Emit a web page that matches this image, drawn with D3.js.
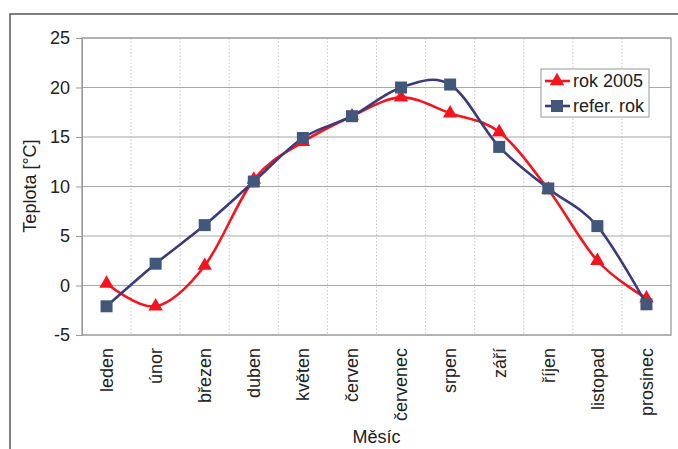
<!DOCTYPE html>
<html><head><meta charset="utf-8">
<script src="https://cdn.jsdelivr.net/npm/d3@7"></script>
<style>body{margin:0;background:#fff}text{font-family:"Liberation Sans",Arial,sans-serif;fill:#222}</style>
</head><body><svg id="c" width="678" height="449"></svg>
<script>
const months = ["leden","únor","březen","duben","květen","červen","červenec","srpen","září","říjen","listopad","prosinec"];
const rok2005 = [0.2,-2.1,2.0,10.7,14.5,17.1,19.0,17.4,15.5,9.7,2.5,-1.3];
const referRok = [-2.1,2.2,6.1,10.5,14.9,17.1,20.0,20.3,14.0,9.8,6.0,-1.9];
const yTicks = [-5,0,5,10,15,20,25];
const seriesNames = ["rok 2005","refer. rok"];

const svg = d3.select("#c");
const L=82,R=671,T=38,B=335;
const x = d3.scaleBand().domain(months).range([L,R]);
const y = d3.scaleLinear().domain([-5,25]).range([B,T]);

svg.append("rect").attr("x",10).attr("y",14).attr("width",800).attr("height",600)
  .attr("fill","none").attr("stroke","#555").attr("stroke-width",1.5);

svg.append("g").selectAll("line").data(months.slice(1)).join("line")
  .attr("x1",d=>x(d)).attr("x2",d=>x(d)).attr("y1",T).attr("y2",B)
  .attr("stroke","#c8c8c8").attr("stroke-dasharray","1.5,2");
svg.append("g").selectAll("line").data(yTicks).join("line")
  .attr("x1",L).attr("x2",R).attr("y1",d=>y(d)).attr("y2",d=>y(d))
  .attr("stroke","#a8a8a8").attr("stroke-width",1.2);
svg.append("rect").attr("x",L).attr("y",T).attr("width",R-L).attr("height",B-T)
  .attr("fill","none").attr("stroke","#a8a8a8").attr("stroke-width",1.5);

const ya = svg.append("g").attr("transform",`translate(${L},0)`)
  .call(d3.axisLeft(y).tickValues(yTicks).tickSize(6).tickPadding(6).tickFormat(d=>String(d)));
ya.select(".domain").attr("stroke","#999");
ya.selectAll(".tick line").attr("stroke","#999");
ya.selectAll("text").style("font-size","18px").attr("fill","#222");

svg.append("g").selectAll("text").data(months).join("text")
  .attr("transform",d=>`translate(${x(d)+x.bandwidth()/2},348) rotate(-90)`)
  .attr("text-anchor","end").attr("dy","0.35em").style("font-size","18px").text(d=>d);

svg.append("text").attr("x",(L+R)/2).attr("y",443).attr("text-anchor","middle")
  .style("font-size","18px").text("Měsíc");
svg.append("text").attr("transform","translate(30,186) rotate(-90)").attr("text-anchor","middle")
  .attr("dy","0.35em").style("font-size","18px").text("Teplota [°C]");

const cx = d=>x(d)+x.bandwidth()/2;
const line = d3.line().x(d=>cx(d.m)).y(d=>y(d.v)).curve(d3.curveCardinal.tension(0));
const redData = months.map((m,i)=>({m,v:rok2005[i]}));
const blueData = months.map((m,i)=>({m,v:referRok[i]}));
const RED="#f5141e", BLUE="#3b3a7a", SQ="#41587a";

svg.append("path").datum(redData).attr("d",line).attr("fill","none").attr("stroke",RED).attr("stroke-width",2.6);
const tri = d3.symbol().type(d3.symbolTriangle).size(90);
svg.append("g").selectAll("path").data(redData).join("path")
  .attr("transform",d=>`translate(${cx(d.m)},${y(d.v)})`).attr("d",tri).attr("fill",RED);

svg.append("path").datum(blueData).attr("d",line).attr("fill","none").attr("stroke",BLUE).attr("stroke-width",2.6);
svg.append("g").selectAll("rect").data(blueData).join("rect")
  .attr("x",d=>cx(d.m)-6).attr("y",d=>y(d.v)-6).attr("width",12).attr("height",12).attr("fill",SQ);

const lg = svg.append("g");
lg.append("rect").attr("x",541).attr("y",69).attr("width",108).attr("height",48)
  .attr("fill","#fff").attr("stroke","#a8a8a8").attr("stroke-width",1.2);
const ly = [81,106];
lg.append("line").attr("x1",545).attr("x2",570).attr("y1",ly[0]).attr("y2",ly[0]).attr("stroke",RED).attr("stroke-width",2.6);
lg.append("path").attr("transform",`translate(557,${ly[0]})`).attr("d",tri).attr("fill",RED);
lg.append("line").attr("x1",545).attr("x2",570).attr("y1",ly[1]).attr("y2",ly[1]).attr("stroke",BLUE).attr("stroke-width",2.6);
lg.append("rect").attr("x",551).attr("y",ly[1]-6).attr("width",12).attr("height",12).attr("fill",SQ);
lg.selectAll("text.l").data(seriesNames).join("text").attr("class","l")
  .attr("x",573).attr("y",(d,i)=>ly[i]).attr("dy","0.35em").style("font-size","18px").text(d=>d);
</script></body></html>
